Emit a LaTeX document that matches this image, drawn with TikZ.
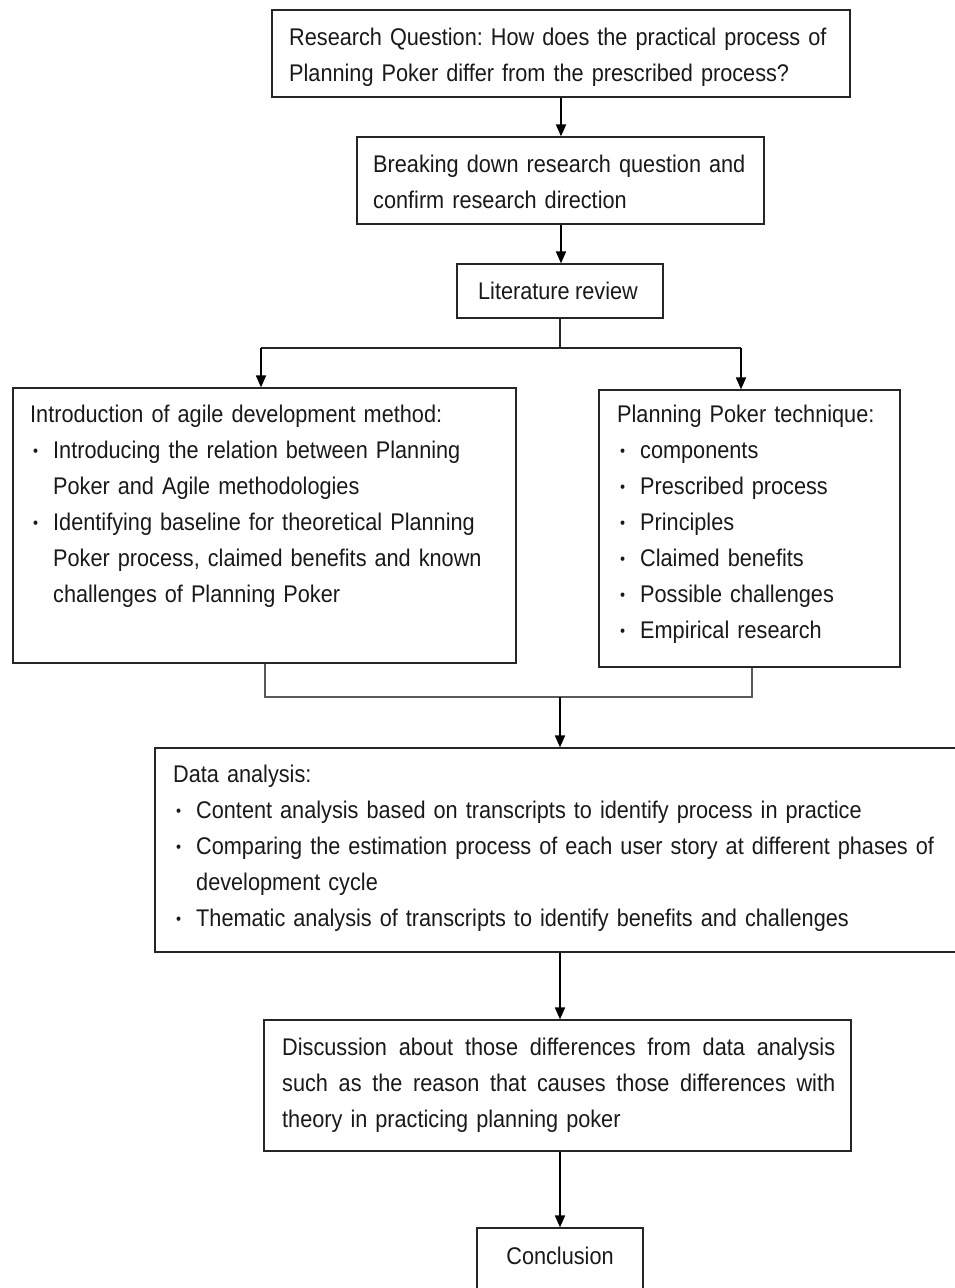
\documentclass[tikz,border=0pt]{standalone}
\usepackage{fontspec}
\setmainfont[FakeStretch=0.9,WordSpace=0.9]{Liberation Sans}
\usetikzlibrary{arrows.meta,fit}
\frenchspacing
\newcommand\bul{\hspace*{3pt}\makebox[20pt][l]{\fontsize{16}{16}\selectfont\raisebox{2pt}{•}}}
\newcommand\ind{\hspace*{23pt}}
\newcommand\justline[1]{\leavevmode\hbox to 553pt{#1}}
\begin{document}
\begin{tikzpicture}[x=1pt,y=-1pt,
  box/.style={draw=black!85,line width=1.2pt,inner sep=0pt},
  txt/.style={inner sep=0pt,anchor=base west,align=left,font=\fontsize{24.1}{36}\selectfont,text=black!90},
  arr/.style={draw=black,line width=1.7pt,-{Triangle[width=10pt,length=12pt]}},
  conn/.style={draw=black!85,line width=1.4pt},
  mline/.style={draw=black!65,line width=1.8pt}]
\useasboundingbox (0,0) rectangle (955,1288);
\fill[white] (0,0) rectangle (955,1288);
% boxes
\node[box,fit={(272,10) (850,97)}] (rq) {};
\node[box,fit={(357,137) (764,224)}] (bd) {};
\node[box,fit={(457,264) (663,318)}] (lit) {};
\node[box,fit={(13,388) (516,663)}] (intro) {};
\node[box,fit={(599,390) (900,667)}] (pp) {};
\node[box,fit={(155,748) (962,952)}] (data) {};
\node[box,fit={(264,1020) (851,1151)}] (disc) {};
\node[box,fit={(477,1228) (643,1310)}] (concl) {};
% texts
\node[txt,text width=560pt] (rqt) at (289,45) {Research Question: How does the practical process of\\Planning Poker differ from the prescribed process?};
\node[txt,text width=390pt] (bdt) at (373,172) {Breaking down research question and\\confirm research direction};
\node[txt,anchor=base,text width=] (litt) at (558,299) {Literature review};
\node[txt,text width=490pt] (introt) at (30,422) {Introduction of agile development method:\\
\bul Introducing the relation between Planning\\
\ind Poker and Agile methodologies\\
\bul Identifying baseline for theoretical Planning\\
\ind Poker process, claimed benefits and known\\
\ind challenges of Planning Poker};
\node[txt,text width=280pt] (ppt) at (617,422) {Planning Poker technique:\\
\bul components\\
\bul Prescribed process\\
\bul Principles\\
\bul Claimed benefits\\
\bul Possible challenges\\
\bul Empirical research};
\node[txt,text width=790pt] (datat) at (173,782) {Data analysis:\\
\bul Content analysis based on transcripts to identify process in practice\\
\bul Comparing the estimation process of each user story at different phases of\\
\ind development cycle\\
\bul Thematic analysis of transcripts to identify benefits and challenges};
\node[txt,text width=553pt] (disct) at (282,1055) {\justline{Discussion\hfill about\hfill those\hfill differences\hfill from\hfill data\hfill analysis}\\
\justline{such\hfill as\hfill the\hfill reason\hfill that\hfill causes\hfill those\hfill differences\hfill with}\\
theory in practicing planning poker};
\node[txt,anchor=base,text width=] (conclt) at (560,1264) {Conclusion};
% connectors
\coordinate (sl) at (261,348);
\coordinate (sr) at (741,348);
\coordinate (ml) at (265,697);
\coordinate (mr) at (752,697);
\coordinate (mc) at (560,697);
\draw[arr] (rq.south) -- (rq.south |- bd.north);
\draw[arr] (rq.south |- bd.south) -- (rq.south |- lit.north);
\draw[conn] (lit.south) -- (lit.south |- sl);
\draw[conn] (sl) -- (sr);
\draw[arr] (sl) -- (sl |- intro.north);
\draw[arr] (sr) -- (sr |- pp.north);
\draw[mline] (ml |- intro.south) -- (ml) -- (mr) -- (mr |- pp.south);
\draw[arr] (mc) -- (mc |- data.north);
\draw[arr] (concl.north |- data.south) -- (concl.north |- disc.north);
\draw[arr] (concl.north |- disc.south) -- (concl.north);
\end{tikzpicture}
\end{document}
